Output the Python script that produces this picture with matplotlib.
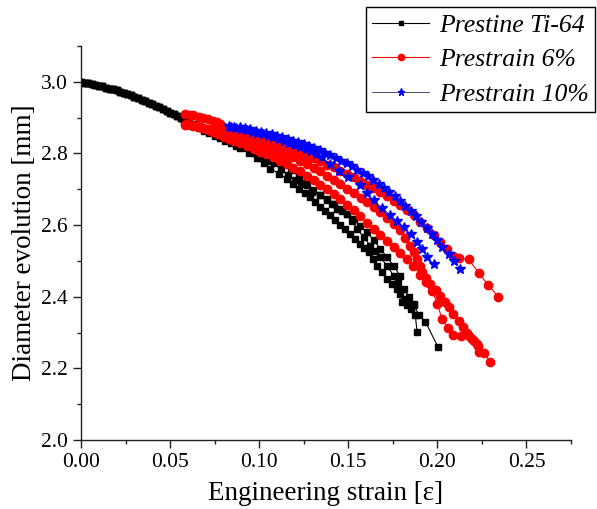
import numpy as np
import matplotlib
matplotlib.use('Agg')
import matplotlib.pyplot as plt
from matplotlib.ticker import MultipleLocator

plt.rcParams['font.family'] = ['Liberation Serif', 'DejaVu Serif']
plt.rcParams['mathtext.fontset'] = 'stix'

# --- data ----------------------------------------------------------------
# shared start of the pristine curves
bk_start_x = [0.000, 0.002, 0.004, 0.006, 0.008, 0.010, 0.012, 0.014, 0.016, 0.018,
              0.020, 0.022, 0.024, 0.026, 0.028, 0.030, 0.032, 0.034, 0.036, 0.038,
              0.040, 0.042, 0.044, 0.046, 0.048, 0.050, 0.052, 0.054, 0.056, 0.058, 0.060]
bk_start_y = [3.000, 2.998, 2.996, 2.993, 2.991, 2.989, 2.987, 2.984, 2.981, 2.979,
              2.976, 2.972, 2.969, 2.966, 2.962, 2.958, 2.954, 2.950, 2.946, 2.942,
              2.938, 2.933, 2.929, 2.924, 2.919, 2.914, 2.909, 2.904, 2.899, 2.894, 2.889]

k1_x = [0.063, 0.066, 0.069, 0.072, 0.075, 0.078, 0.081, 0.084, 0.087, 0.0893,
        0.093, 0.097, 0.1005, 0.1043, 0.108, 0.1137, 0.118, 0.1221, 0.126, 0.1296,
        0.134, 0.138, 0.1408, 0.1436, 0.1464, 0.1492, 0.152, 0.1549, 0.1586, 0.1623,
        0.165, 0.168, 0.1717, 0.1754, 0.178, 0.1811, 0.184, 0.1867, 0.1895, 0.1933, 0.2002]
k1_y = [2.883, 2.877, 2.871, 2.865, 2.859, 2.853, 2.850, 2.846, 2.841, 2.838,
        2.828, 2.818, 2.807, 2.796, 2.784, 2.772, 2.755, 2.735, 2.714, 2.693,
        2.684, 2.674, 2.660, 2.646, 2.640, 2.632, 2.611, 2.590, 2.567, 2.543,
        2.527, 2.510, 2.487, 2.459, 2.440, 2.421, 2.400, 2.379, 2.349, 2.330, 2.261]

k2_x = [0.063, 0.066, 0.069, 0.072, 0.075, 0.078, 0.081, 0.084, 0.087, 0.0893,
        0.093, 0.097, 0.101, 0.1045, 0.1081, 0.112, 0.116, 0.120, 0.1235, 0.1268,
        0.130, 0.134, 0.138, 0.1418, 0.145, 0.149, 0.153, 0.1567, 0.1605, 0.1643,
        0.168, 0.1717, 0.1754, 0.179, 0.1802, 0.183, 0.185]
k2_y = [2.881, 2.874, 2.867, 2.860, 2.854, 2.848, 2.842, 2.836, 2.830, 2.826,
        2.815, 2.800, 2.786, 2.778, 2.772, 2.757, 2.741, 2.727, 2.718, 2.712,
        2.697, 2.684, 2.671, 2.660, 2.646, 2.632, 2.618, 2.598, 2.580, 2.557,
        2.534, 2.510, 2.487, 2.459, 2.386, 2.377, 2.365]

k3_x = [0.063, 0.066, 0.069, 0.072, 0.075, 0.078, 0.081, 0.084, 0.087, 0.0893,
        0.094, 0.0987, 0.1025, 0.1062, 0.111, 0.1156, 0.119, 0.1221, 0.1255, 0.1287,
        0.1315, 0.1343, 0.137, 0.1399, 0.1427, 0.1455, 0.1483, 0.1511, 0.154, 0.1567,
        0.159, 0.1614, 0.1638, 0.1661, 0.169, 0.1717, 0.1745, 0.1773, 0.1792, 0.1811,
        0.1835, 0.1867, 0.1876, 0.1886]
k3_y = [2.880, 2.872, 2.864, 2.857, 2.850, 2.843, 2.836, 2.829, 2.822, 2.815,
        2.801, 2.787, 2.772, 2.758, 2.744, 2.730, 2.716, 2.702, 2.690, 2.679,
        2.665, 2.651, 2.639, 2.627, 2.613, 2.599, 2.588, 2.576, 2.562, 2.548,
        2.536, 2.524, 2.506, 2.487, 2.468, 2.449, 2.435, 2.421, 2.407, 2.393,
        2.385, 2.377, 2.349, 2.301]

# prestrain 6 %
r1_x = [0.0584, 0.061, 0.0631, 0.066, 0.0687, 0.0715, 0.0743, 0.0762, 0.0781, 0.0795,
        0.0809, 0.083, 0.0856, 0.0893, 0.093, 0.097, 0.1006, 0.104, 0.108, 0.1118,
        0.1155, 0.119, 0.123, 0.1268, 0.1305, 0.134, 0.138, 0.1418, 0.1455, 0.149,
        0.153, 0.1567, 0.1605, 0.164, 0.168, 0.1717, 0.1755, 0.179, 0.183, 0.1867,
        0.1905, 0.1942, 0.198, 0.2017, 0.2055, 0.209, 0.212, 0.2176, 0.2232, 0.2285, 0.2341]
r1_y = [2.910, 2.908, 2.906, 2.903, 2.900, 2.896, 2.891, 2.887, 2.882, 2.874,
        2.866, 2.862, 2.858, 2.853, 2.847, 2.841, 2.836, 2.831, 2.826, 2.820,
        2.814, 2.808, 2.801, 2.794, 2.786, 2.778, 2.769, 2.761, 2.752, 2.743,
        2.733, 2.724, 2.713, 2.703, 2.692, 2.680, 2.668, 2.655, 2.641, 2.627,
        2.610, 2.592, 2.572, 2.552, 2.532, 2.515, 2.507, 2.504, 2.466, 2.433, 2.400]

r2_x = [0.0584, 0.061, 0.0631, 0.066, 0.0687, 0.0715, 0.0743, 0.077, 0.080, 0.083,
        0.0856, 0.089, 0.093, 0.0965, 0.1006, 0.104, 0.108, 0.1118, 0.1155, 0.119,
        0.123, 0.127, 0.1305, 0.134, 0.138, 0.1418, 0.1455, 0.149, 0.153, 0.157,
        0.1605, 0.1642, 0.168, 0.1717, 0.1755, 0.1792, 0.182, 0.1848, 0.1868, 0.1886,
        0.190, 0.1914, 0.1935, 0.1961, 0.199, 0.2017, 0.204, 0.2064, 0.209, 0.212,
        0.2145, 0.2167, 0.2195, 0.2223, 0.226, 0.2298]
r2_y = [2.880, 2.879, 2.878, 2.875, 2.872, 2.869, 2.866, 2.861, 2.856, 2.851,
        2.847, 2.841, 2.835, 2.829, 2.823, 2.817, 2.811, 2.804, 2.797, 2.790,
        2.780, 2.770, 2.760, 2.750, 2.738, 2.726, 2.714, 2.702, 2.690, 2.677,
        2.664, 2.650, 2.636, 2.621, 2.604, 2.585, 2.565, 2.543, 2.524, 2.505,
        2.486, 2.468, 2.451, 2.435, 2.419, 2.403, 2.386, 2.370, 2.351, 2.332,
        2.316, 2.300, 2.283, 2.267, 2.243, 2.218]

r3_x = [0.059, 0.062, 0.065, 0.068, 0.071, 0.074, 0.077, 0.080, 0.083, 0.086,
        0.0893, 0.093, 0.097, 0.1006, 0.104, 0.108, 0.1118, 0.1155, 0.119, 0.123,
        0.1268, 0.1305, 0.134, 0.138, 0.1418, 0.1455, 0.149, 0.153, 0.1567, 0.1605,
        0.1642, 0.168, 0.1717, 0.1754, 0.179, 0.1828, 0.1865, 0.1904, 0.1937, 0.197,
        0.200, 0.2026, 0.206, 0.209, 0.2135, 0.2176, 0.2205, 0.2228, 0.2232]
r3_y = [2.883, 2.880, 2.876, 2.870, 2.865, 2.859, 2.853, 2.847, 2.841, 2.835,
        2.829, 2.822, 2.813, 2.805, 2.798, 2.790, 2.780, 2.770, 2.760, 2.750,
        2.738, 2.725, 2.713, 2.700, 2.686, 2.672, 2.657, 2.641, 2.625, 2.607,
        2.590, 2.572, 2.556, 2.540, 2.523, 2.505, 2.485, 2.462, 2.440, 2.417,
        2.380, 2.337, 2.312, 2.292, 2.291, 2.290, 2.275, 2.262, 2.246]

# prestrain 10 %
b1_x = [0.083, 0.086, 0.089, 0.092, 0.095, 0.098, 0.101, 0.104, 0.107, 0.110,
        0.113, 0.116, 0.119, 0.122, 0.125, 0.128, 0.131, 0.134, 0.137, 0.140,
        0.143, 0.146, 0.149, 0.152, 0.155, 0.158, 0.161, 0.164, 0.167, 0.170,
        0.173, 0.176, 0.179, 0.182, 0.185, 0.188, 0.191, 0.194, 0.197, 0.200,
        0.2026, 0.2064, 0.2092, 0.2129]
b1_y = [2.877, 2.875, 2.873, 2.870, 2.867, 2.864, 2.861, 2.857, 2.853, 2.849,
        2.845, 2.841, 2.836, 2.831, 2.826, 2.821, 2.815, 2.809, 2.802, 2.795,
        2.788, 2.780, 2.772, 2.764, 2.755, 2.746, 2.736, 2.726, 2.715, 2.704,
        2.692, 2.680, 2.667, 2.654, 2.640, 2.626, 2.609, 2.592, 2.576, 2.557,
        2.538, 2.520, 2.501, 2.478]

b2_x = [0.084, 0.087, 0.090, 0.093, 0.096, 0.099, 0.102, 0.105, 0.108, 0.111,
        0.114, 0.117, 0.120, 0.123, 0.126, 0.129, 0.132, 0.135, 0.140, 0.145,
        0.150, 0.1567, 0.1604, 0.1642, 0.169, 0.1736, 0.1775, 0.1811, 0.185, 0.1886,
        0.1915, 0.1942, 0.198]
b2_y = [2.874, 2.871, 2.868, 2.865, 2.861, 2.857, 2.853, 2.849, 2.845, 2.840,
        2.835, 2.830, 2.825, 2.819, 2.813, 2.806, 2.799, 2.790, 2.770, 2.750,
        2.735, 2.712, 2.690, 2.669, 2.648, 2.627, 2.611, 2.595, 2.574, 2.553,
        2.532, 2.510, 2.490]

# --- figure ----------------------------------------------------------------
fig = plt.figure(figsize=(5.97, 5.09), dpi=100)
ax = fig.add_axes([0.1357, 0.1356, 0.8208, 0.774])

blk = dict(color='k', lw=0.8, marker='s', ms=4.5, mfc='k', mec='k')
for i, (xs, ys) in enumerate([(k1_x, k1_y), (k2_x, k2_y), (k3_x, k3_y)]):
    ax.plot(bk_start_x + xs, bk_start_y + ys, label='Prestine Ti-64' if i == 0 else None, **blk)

red = dict(color='red', lw=0.8, marker='o', ms=6, mfc='red', mec='red')
for i, (xs, ys) in enumerate([(r1_x, r1_y), (r2_x, r2_y), (r3_x, r3_y)]):
    ax.plot(xs, ys, label='Prestrain 6%' if i == 0 else None, **red)

blu = dict(color='#303060', lw=0.6, marker='*', ms=7, mfc='blue', mec='blue')
for i, (xs, ys) in enumerate([(b1_x, b1_y), (b2_x, b2_y)]):
    ax.plot(xs, ys, label='Prestrain 10%' if i == 0 else None, **blu)

ax.set_xlim(0, 0.275)
ax.set_ylim(2.0, 3.1)
ax.xaxis.set_major_locator(MultipleLocator(0.05))
ax.xaxis.set_minor_locator(MultipleLocator(0.025))
ax.yaxis.set_major_locator(MultipleLocator(0.2))
ax.yaxis.set_minor_locator(MultipleLocator(0.1))
ax.xaxis.set_major_formatter(matplotlib.ticker.FormatStrFormatter('%.2f'))
ax.yaxis.set_major_formatter(matplotlib.ticker.FormatStrFormatter('%.1f'))

for s in ['top', 'right']:
    ax.spines[s].set_visible(False)
for s in ['left', 'bottom']:
    ax.spines[s].set_linewidth(1.0)
    ax.spines[s].set_color('#222222')
ax.tick_params(which='major', direction='out', length=6, width=1.0, labelsize=15.5, colors='#222222')
ax.tick_params(which='minor', direction='out', length=3, width=1.0, colors='#222222')
ax.tick_params(labelcolor='k')

ax.set_xlabel('Engineering strain [\u03b5]', fontsize=19.5, labelpad=6)
ax.set_ylabel('Diameter evolution [mm]', fontsize=19.5, labelpad=3)

leg = fig.legend(loc='upper left', bbox_to_anchor=(0.613, 0.986),
                 prop={'style': 'italic', 'size': 18.5}, frameon=True, fancybox=False,
                 edgecolor='k', framealpha=1, handlelength=2.22, handletextpad=0.38,
                 labelspacing=0.45, borderpad=0.25, borderaxespad=0, markerscale=0.75)
leg.get_frame().set_linewidth(1.0)

fig.savefig('out.png', dpi=100)
